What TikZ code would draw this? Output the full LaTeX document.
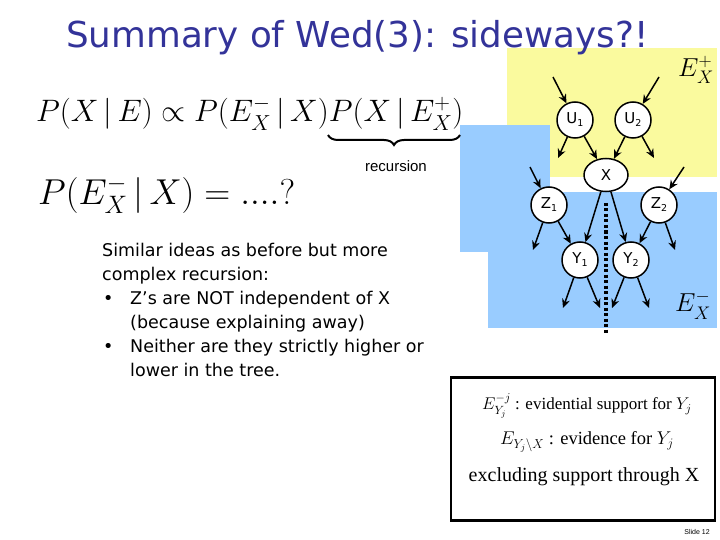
\RequirePackage{fix-cm}
\documentclass[tikz,border=0pt]{standalone}
\usepackage{fontspec}
\usepackage{amsmath}
\setmainfont{Liberation Serif}
\newfontfamily\tah{DejaVu Sans}
\newfontfamily\ari{Liberation Sans}
\usetikzlibrary{arrows.meta,decorations.pathreplacing,shapes.geometric}
\definecolor{titleblue}{HTML}{333399}
\definecolor{paleyellow}{HTML}{FAFA9E}
\definecolor{paleblue}{HTML}{99CCFF}
\tikzset{
  bn/.style={circle,draw=black,line width=1.5pt,fill=white,minimum size=36pt,inner sep=0pt,font=\tah\fontsize{15}{15}\selectfont},
  bnx/.style={ellipse,draw=black,line width=1.5pt,fill=white,minimum width=44pt,minimum height=33pt,inner sep=0pt,font=\tah\fontsize{15}{15}\selectfont},
  ar/.style={-{Stealth[length=9pt,width=8pt]},line width=1.5pt},
  body/.style={anchor=base west,font=\tah\fontsize{17.5}{17.5}\selectfont,inner sep=0pt}
}
\newcommand{\nsub}[2]{#1\raisebox{-3pt}{\fontsize{9.5}{9.5}\selectfont #2}}
\begin{document}
\begin{tikzpicture}[x=1pt,y=-1pt]
\useasboundingbox (0,0) rectangle (720,540);
% background panels
\fill[paleyellow] (507,48) rectangle (717,177);
\fill[paleblue] (460,125) rectangle (550,252);
\fill[paleblue] (488,192) rectangle (717,328);
% title
\node[anchor=west,text=titleblue,font=\tah\fontsize{35.7}{35.7}\selectfont,inner sep=0pt] (title) at (66,38) {Summary of Wed(3): sideways?!};
% formulas
\node[anchor=base west,inner sep=0pt,font=\fontsize{31}{31}\selectfont] (f1) at (36,122) {$P(X\,|\,E)\propto P(E_X^-\,|\,X)P(X\,|\,E_X^+)$};
\draw[decorate,decoration={brace,amplitude=10pt,mirror},line width=2pt] (328,135) -- (460,135) coordinate[midway] (bmid);
\node[font=\ari\fontsize{15}{15}\selectfont,inner sep=0pt] (rec) at (396,166) {recursion};
\node[anchor=base west,inner sep=0pt,font=\fontsize{36}{36}\selectfont] (f2) at (38,205) {$P(E_X^-\,|\,X)=....?$};
% body text
\node[body] (t1) at (102,256) {Similar ideas as before but more};
\node[body] (t2) at (102,280) {complex recursion:};
\node[body] (b1) at (103,304) {\textbullet};
\node[body] (t3) at (130,304) {Z’s are NOT independent of X};
\node[body] (t4) at (130,328) {(because explaining away)};
\node[body] (b2) at (103,352) {\textbullet};
\node[body] (t5) at (130,352) {Neither are they strictly higher or};
\node[body] (t6) at (130,376) {lower in the tree.};
% network
\node[bn] (U1) at (575,120) {\nsub{U}{1}};
\node[bn] (U2) at (633,120) {\nsub{U}{2}};
\node[bnx] (X) at (606,175) {X};
\node[bn] (Z1) at (549,205) {\nsub{Z}{1}};
\node[bn] (Z2) at (659,205) {\nsub{Z}{2}};
\node[bn] (Y1) at (580,260) {\nsub{Y}{1}};
\node[bn] (Y2) at (631,260) {\nsub{Y}{2}};
\coordinate (iu1) at (553,77);
\coordinate (iu2) at (659,77);
\coordinate (ou1) at (558,158);
\coordinate (ou2) at (654,158);
\coordinate (iz1) at (530,167);
\coordinate (iz2) at (684,167);
\coordinate (oz1) at (533,250);
\coordinate (oz2) at (675,250);
\coordinate (oy1a) at (563,308);
\coordinate (oy1b) at (600,308);
\coordinate (oy2a) at (612,308);
\coordinate (oy2b) at (649,308);
\draw[ar] (iu1) -- (U1);
\draw[ar] (iu2) -- (U2);
\draw[ar] (U1) -- (ou1);
\draw[ar] (U1) -- (X);
\draw[ar] (U2) -- (X);
\draw[ar] (U2) -- (ou2);
\draw[ar] (iz1) -- (Z1);
\draw[ar] (iz2) -- (Z2);
\draw[ar] (X) -- (Y1);
\draw[ar] (X) -- (Y2);
\draw[ar] (Z1) -- (oz1);
\draw[ar] (Z1) -- (Y1);
\draw[ar] (Z2) -- (Y2);
\draw[ar] (Z2) -- (oz2);
\draw[ar] (Y1) -- (oy1a);
\draw[ar] (Y1) -- (oy1b);
\draw[ar] (Y2) -- (oy2a);
\draw[ar] (Y2) -- (oy2b);
\coordinate (dtop) at (606,203);
\coordinate (dbot) at (606,334);
\draw[line width=3.5pt,dash pattern=on 3pt off 2.5pt] (dtop) -- (dbot);
\node[font=\fontsize{26}{26}\selectfont,inner sep=0pt] (eplus) at (696,70) {$E_X^+$};
\node[font=\fontsize{26}{26}\selectfont,inner sep=0pt] (eminus) at (693,305) {$E_X^-$};
% definition box
\node[draw=black,line width=2.5pt,minimum width=264pt,minimum height=143pt,inner sep=0pt] (box) at (583,449) {};
\node[font=\fontsize{17}{17}\selectfont,inner sep=0pt] (d1) at (587,406) {$E_{Y_j}^{-j}$ : evidential support for $Y_j$};
\node[font=\fontsize{18.5}{18.5}\selectfont,inner sep=0pt] (d2) at (587,442) {$E_{Y_j\backslash X}$ : evidence for $Y_j$};
\node[font=\fontsize{20}{20}\selectfont,inner sep=0pt] (d3) at (584,477) {excluding support through X};
\node[font=\ari\fontsize{7}{7}\selectfont,inner sep=0pt] (slide) at (697,532) {Slide 12};
\end{tikzpicture}
\end{document}
